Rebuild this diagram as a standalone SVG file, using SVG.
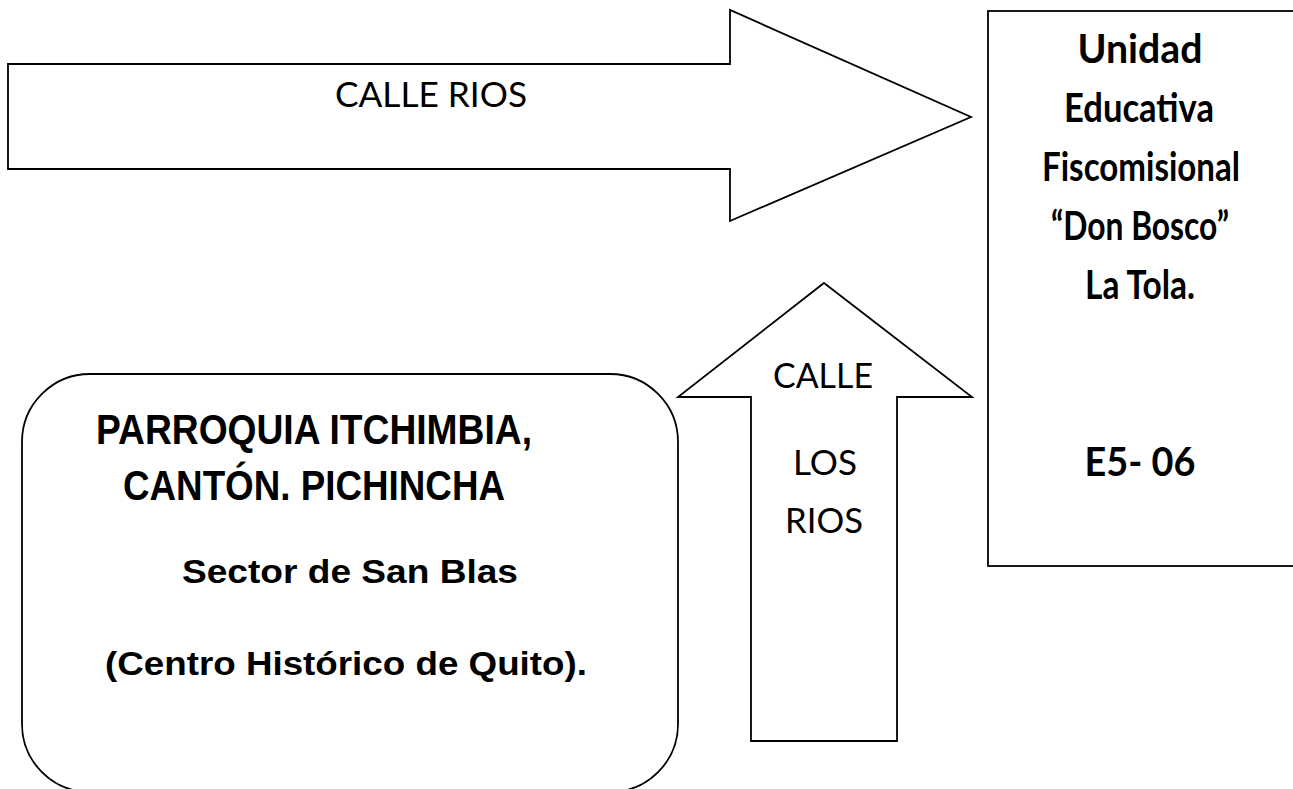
<svg xmlns="http://www.w3.org/2000/svg" width="1293" height="789" viewBox="0 0 1293 789">
<style>
.shape{fill:#fff;stroke:#000;stroke-width:1.8;stroke-linejoin:miter}
.cal{font-family:Lato,"Open Sans","Liberation Sans",sans-serif;fill:#000;text-anchor:middle}
.calb{font-family:Lato,"Open Sans","Liberation Sans",sans-serif;font-weight:bold;fill:#000;text-anchor:middle;font-size:40px}
.ar{font-family:"Liberation Sans",Arial,sans-serif;font-weight:bold;fill:#000;text-anchor:middle}
</style>
<rect width="1293" height="789" fill="#fff"/>
<g id="connectors">
  <g id="calle-rios">
    <polygon class="shape" points="8,64 730,64 730,10 971,117 730,221 730,169 8,169"/>
    <text class="cal" x="431" y="107" font-size="34" textLength="192" lengthAdjust="spacingAndGlyphs">CALLE RIOS</text>
  </g>
  <g id="calle-los-rios">
    <polygon class="shape" points="824,283 972,397 897,397 897,741 751,741 751,397 678,397"/>
    <text class="cal" x="823" y="388" font-size="35" textLength="100" lengthAdjust="spacingAndGlyphs">CALLE</text>
    <text class="cal" x="825" y="475" font-size="35" textLength="64" lengthAdjust="spacingAndGlyphs">LOS</text>
    <text class="cal" x="824" y="533" font-size="35" textLength="78" lengthAdjust="spacingAndGlyphs">RIOS</text>
  </g>
</g>
<g id="unidad-educativa">
  <rect class="shape" x="988" y="11" width="320" height="555"/>
  <text class="calb" x="1140" y="63" textLength="125" lengthAdjust="spacingAndGlyphs">Unidad</text>
  <text class="calb" x="1139" y="122" textLength="150" lengthAdjust="spacingAndGlyphs">Educativa</text>
  <text class="calb" x="1141" y="181" textLength="198" lengthAdjust="spacingAndGlyphs">Fiscomisional</text>
  <text class="calb" x="1140" y="240" textLength="178" lengthAdjust="spacingAndGlyphs">“Don Bosco”</text>
  <text class="calb" x="1140" y="299" textLength="110" lengthAdjust="spacingAndGlyphs">La Tola.</text>
  <text class="calb" x="1140" y="476" textLength="111" lengthAdjust="spacingAndGlyphs">E5- 06</text>
</g>
<g id="parroquia">
  <rect class="shape" x="22" y="374" width="656" height="418" rx="68" ry="68"/>
  <text class="ar" x="314" y="444" font-size="42" textLength="436" lengthAdjust="spacingAndGlyphs">PARROQUIA ITCHIMBIA,</text>
  <text class="ar" x="314" y="500" font-size="42" textLength="382" lengthAdjust="spacingAndGlyphs">CANTÓN. PICHINCHA</text>
  <text class="ar" x="350" y="583" font-size="34" textLength="336" lengthAdjust="spacingAndGlyphs">Sector de San Blas</text>
  <text class="ar" x="346" y="675" font-size="34" textLength="482" lengthAdjust="spacingAndGlyphs">(Centro Histórico de Quito).</text>
</g>
</svg>
